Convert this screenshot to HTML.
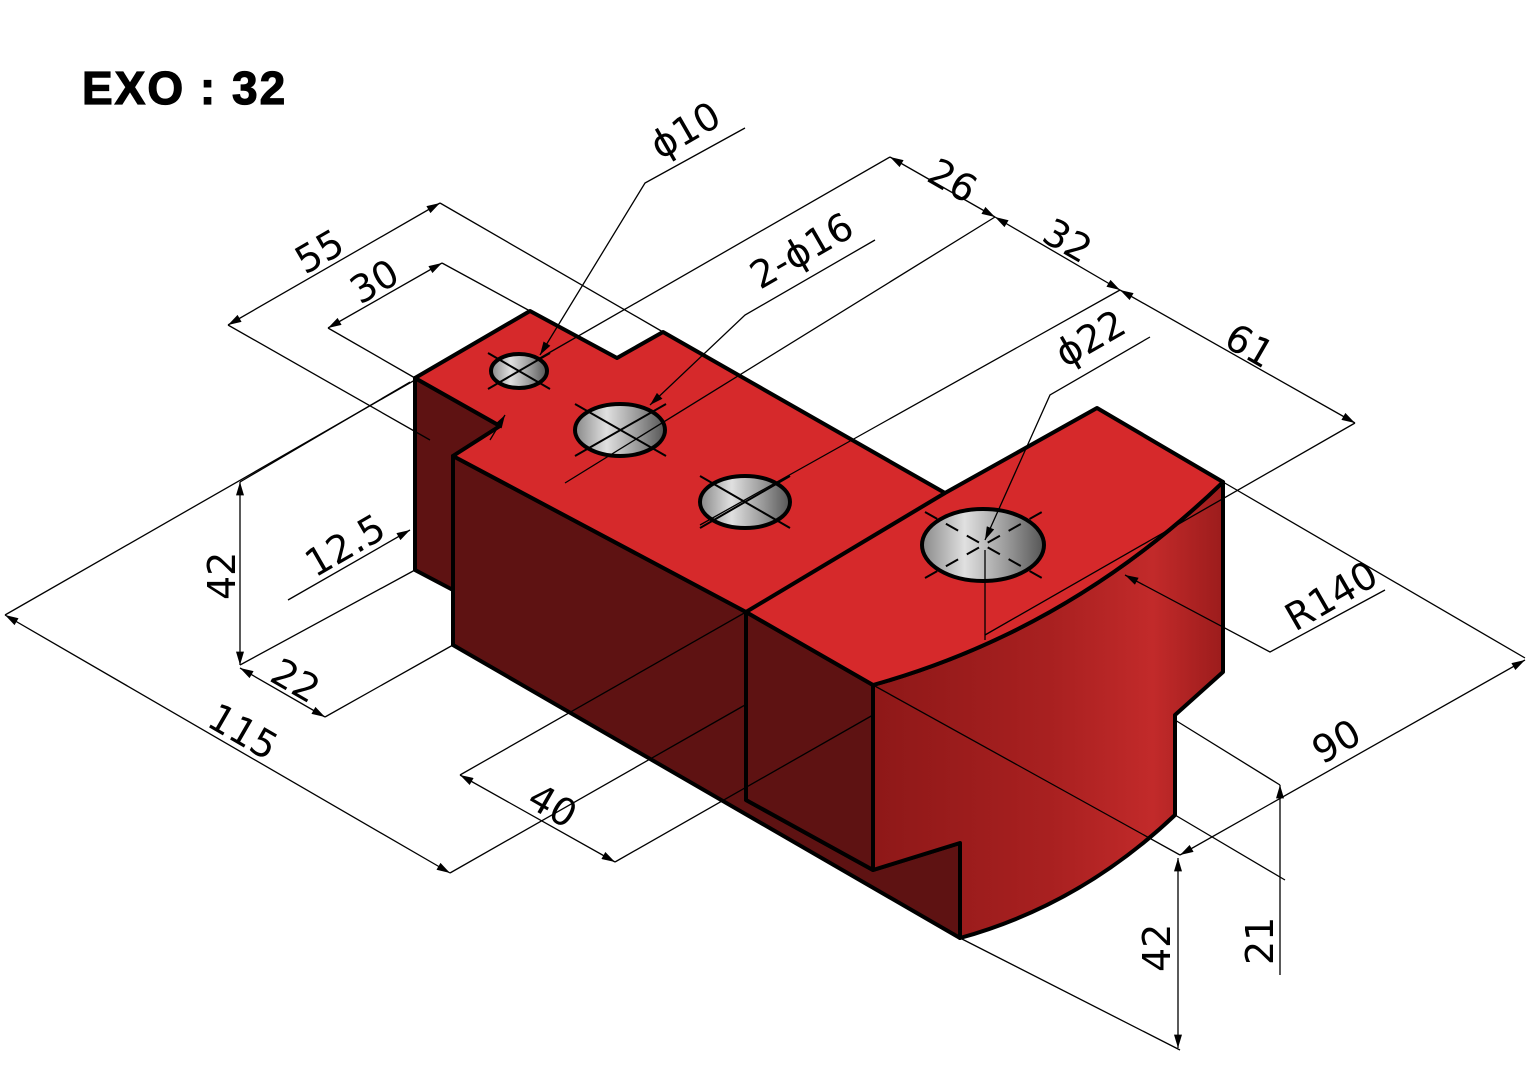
<!DOCTYPE html>
<html><head><meta charset="utf-8"><style>
html,body{margin:0;padding:0;background:#fff;width:1533px;height:1089px;overflow:hidden}
svg text{font-family:"DejaVu Sans","Liberation Sans",sans-serif}
svg text.title{font-family:"Liberation Sans",sans-serif}
</style></head><body>
<svg width="1533" height="1089" viewBox="0 0 1533 1089" xmlns="http://www.w3.org/2000/svg">
<defs>
<linearGradient id="hole" x1="0" x2="1" y1="0" y2="0"><stop offset="0" stop-color="#888"/><stop offset="0.35" stop-color="#e0e0e0"/><stop offset="0.7" stop-color="#999"/><stop offset="1" stop-color="#555"/></linearGradient>
<linearGradient id="curve" x1="0" x2="1"><stop offset="0" stop-color="#8e1818"/><stop offset="0.5" stop-color="#a82020"/><stop offset="0.8" stop-color="#c22a2a"/><stop offset="1" stop-color="#9c1c1c"/></linearGradient>
<marker id="ar" viewBox="0 0 10 6" refX="10" refY="3" markerWidth="14" markerHeight="8" orient="auto-start-reverse" markerUnits="userSpaceOnUse"><path d="M0,0 L10,3 L0,6z" fill="#000"/></marker>
</defs>
<text class="title" x="82" y="104" font-size="46" font-weight="bold" letter-spacing="2" stroke="#000" stroke-width="1.2">EXO : 32</text>

<g stroke="#000" stroke-width="4" stroke-linejoin="round">
<polygon fill="#5e1212" points="415,378 500,426 453,456 453,590 415,570"/>
<polygon fill="#5e1212" points="453,456 746,612 746,800 873,870 960,843 960,938 453,645"/>
<polygon fill="#5e1212" points="746,612 873,685 873,870 746,800"/>
<path fill="url(#curve)" d="M873,685 Q1070,630 1223,482 L1223,672 L1175,715 L1175,815 Q1080,905 960,938 L960,843 L873,870 Z"/>
<path fill="#d6292b" d="M415,378 L530,311 L617,358 L663,332 L945,493 L1097,408 L1223,482 Q1070,630 873,685 L746,612 L453,456 L500,426 Z"/>
<line x1="746" y1="612" x2="945" y2="493" />
</g>

<g stroke="#000">
<ellipse cx="519" cy="371" rx="28" ry="17" fill="url(#hole)" stroke-width="4"/>
<ellipse cx="620" cy="430" rx="45" ry="26" fill="url(#hole)" stroke-width="4"/>
<ellipse cx="745" cy="502" rx="45" ry="26" fill="url(#hole)" stroke-width="4"/>
<ellipse cx="983" cy="545" rx="61" ry="36" fill="url(#hole)" stroke-width="4"/>
<g stroke-width="2">
<line x1="488" y1="353" x2="550" y2="389"/><line x1="488" y1="389" x2="550" y2="353"/>
<line x1="575" y1="404" x2="666" y2="456"/><line x1="575" y1="456" x2="666" y2="404"/>
<line x1="700" y1="476" x2="790" y2="528"/><line x1="700" y1="528" x2="790" y2="476"/>
<line x1="925" y1="512" x2="1042" y2="578" stroke-dasharray="14,10"/><line x1="925" y1="578" x2="1042" y2="512" stroke-dasharray="14,10"/>
</g></g>

<g stroke="#000" stroke-width="1.3" fill="none">
<line x1="228" y1="325" x2="440" y2="203" marker-start="url(#ar)" marker-end="url(#ar)"/>
<line x1="440" y1="203" x2="663" y2="332"/><line x1="228" y1="325" x2="430" y2="440"/>
<line x1="328" y1="328" x2="442" y2="263" marker-start="url(#ar)" marker-end="url(#ar)"/>
<line x1="442" y1="263" x2="530" y2="311"/><line x1="328" y1="328" x2="415" y2="378"/>
<line x1="890" y1="157" x2="995" y2="217" marker-start="url(#ar)" marker-end="url(#ar)"/>
<line x1="995" y1="217" x2="1120" y2="290" marker-start="url(#ar)" marker-end="url(#ar)"/>
<line x1="1120" y1="290" x2="1355" y2="423" marker-start="url(#ar)" marker-end="url(#ar)"/>
<line x1="890" y1="157" x2="540" y2="358"/><line x1="995" y1="217" x2="565" y2="483"/>
<line x1="1120" y1="290" x2="700" y2="525"/><line x1="1355" y1="423" x2="985" y2="635"/>
<polyline points="745,128 645,183 540,355" marker-end="url(#ar)"/>
<line x1="505" y1="415" x2="490" y2="440" marker-start="url(#ar)"/>
<polyline points="875,240 745,315 650,405" marker-end="url(#ar)"/>
<polyline points="1150,337 1050,395 985,540" marker-end="url(#ar)"/>
<line x1="985" y1="550" x2="985" y2="640"/>
<polyline points="1385,590 1270,652 1125,575" marker-end="url(#ar)"/>
<line x1="1223" y1="482" x2="1525" y2="658"/>
<line x1="5" y1="615" x2="450" y2="873" marker-start="url(#ar)" marker-end="url(#ar)"/>
<line x1="5" y1="615" x2="415" y2="380"/><line x1="450" y1="873" x2="745" y2="705"/>
<line x1="240" y1="482" x2="240" y2="665" marker-start="url(#ar)" marker-end="url(#ar)"/>
<line x1="240" y1="482" x2="410" y2="382"/><line x1="240" y1="665" x2="415" y2="570"/>
<line x1="288" y1="600" x2="410" y2="530" marker-end="url(#ar)"/>
<line x1="240" y1="668" x2="325" y2="717" marker-start="url(#ar)" marker-end="url(#ar)"/>
<line x1="325" y1="717" x2="453" y2="645"/>
<line x1="460" y1="775" x2="615" y2="862" marker-start="url(#ar)" marker-end="url(#ar)"/>
<line x1="460" y1="775" x2="746" y2="612"/><line x1="615" y1="862" x2="873" y2="715"/>
<line x1="1180" y1="855" x2="1525" y2="660" marker-start="url(#ar)" marker-end="url(#ar)"/>
<line x1="873" y1="685" x2="1180" y2="855"/>
<line x1="1178" y1="858" x2="1178" y2="1048" marker-start="url(#ar)" marker-end="url(#ar)"/>
<line x1="960" y1="938" x2="1180" y2="1050"/>
<line x1="1280" y1="785" x2="1280" y2="975" marker-start="url(#ar)"/>
<line x1="1175" y1="720" x2="1280" y2="785"/><line x1="1175" y1="815" x2="1285" y2="880"/>
</g>

<g font-size="38" fill="#000">
<text transform="translate(305,275) rotate(-30)">55</text>
<text transform="translate(360,305) rotate(-30)">30</text>
<text transform="translate(660,160) rotate(-30)">ϕ10</text>
<text transform="translate(925,180) rotate(30)">26</text>
<text transform="translate(1040,240) rotate(30)">32</text>
<text transform="translate(1222,345) rotate(30)">61</text>
<text transform="translate(760,290) rotate(-30)">2-ϕ16</text>
<text transform="translate(1065,368) rotate(-30)">ϕ22</text>
<text transform="translate(1295,632) rotate(-30)">R140</text>
<text transform="translate(235,600) rotate(-90)">42</text>
<text transform="translate(315,578) rotate(-30)">12.5</text>
<text transform="translate(268,680) rotate(30)">22</text>
<text transform="translate(205,725) rotate(30)">115</text>
<text transform="translate(525,805) rotate(30)">40</text>
<text transform="translate(1322,765) rotate(-30)">90</text>
<text transform="translate(1170,972) rotate(-90)">42</text>
<text transform="translate(1273,965) rotate(-90)">21</text>
</g>
</svg>
</body></html>
